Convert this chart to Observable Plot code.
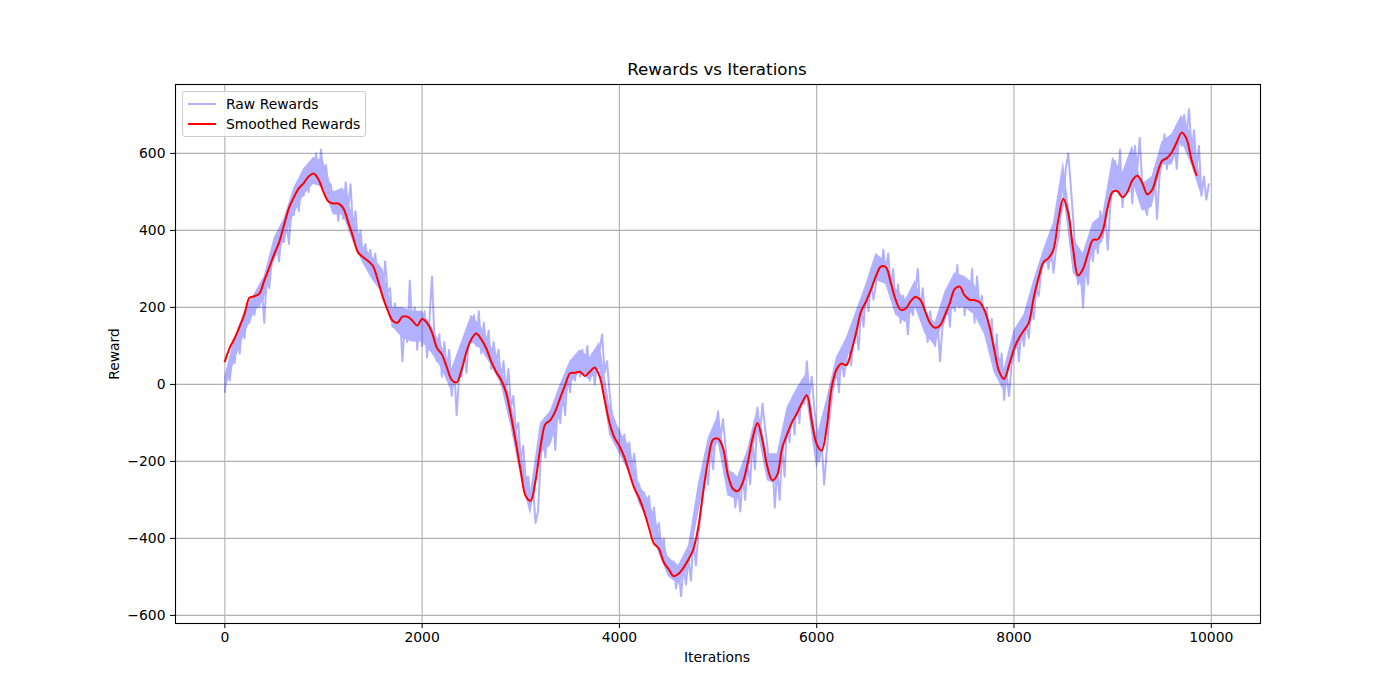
<!DOCTYPE html>
<html>
<head>
<meta charset="utf-8">
<script src="https://cdn.jsdelivr.net/npm/d3@7"></script>
<script src="https://cdn.jsdelivr.net/npm/@observablehq/plot@0.6"></script>
<style>
  body { margin: 0; background: #fff; font-family: "DejaVu Sans", sans-serif; }
  #wrap { position: relative; width: 1400px; height: 700px; overflow: hidden; }
  #chart { position: absolute; left: 0; top: 0; }
  .title { position: absolute; left: 517px; width: 400px; top: 59px; text-align: center; font-size: 16.7px; color: #000; }
  .xlabel { position: absolute; left: 617px; width: 200px; top: 649px; text-align: center; font-size: 13.9px; color: #000; }
  .ylabel { position: absolute; left: 114px; top: 354px; transform: translate(-50%, -50%) rotate(-90deg); font-size: 13.9px; color: #000; white-space: nowrap; }
  .legend { position: absolute; left: 182px; top: 91px; width: 182px; height: 44px; border: 1px solid #cccccc; border-radius: 3px; background: rgba(255,255,255,0.8); z-index: 2; }
  .legend .row { position: absolute; left: 0; height: 18px; font-size: 13.9px; color: #000; }
  .legend .sw { position: absolute; left: 5px; top: 8px; width: 28px; height: 2px; }
  .legend .lbl { position: absolute; left: 43px; top: 0; white-space: nowrap; line-height: 18px; }
</style>
</head>
<body>
<div id="wrap">
  <div id="chart"></div>
  <div class="title">Rewards vs Iterations</div>
  <div class="xlabel">Iterations</div>
  <div class="ylabel">Reward</div>
  <div class="legend" id="legend"></div>
</div>
<script>
// ---- data ----
// raw rewards, read every 25 iterations
const rawStep = 25;
const rawValues = [
  -20, 40, 10, 70,   55, 130, 80, 150,   120, 200, 160, 225,   180, 230, 200, 250,   160, 280, 250, 320,
  330, 370, 320, 395,   370, 420, 365, 460,   440, 500, 450, 530,   490, 550, 500, 575,   530, 600, 520, 610,
  540, 570, 510, 520,   450, 500, 425, 480,   430, 525, 460, 520,   400, 450, 360, 400,   330, 365, 310, 350,
  280, 340, 260, 300,   230, 320, 240, 250,   150, 210, 160, 190,   60, 160, 110, 270,   150, 200, 90, 180,
  100, 190, 70, 170,   280, 120, 60, 130,   20, 110, 40, 90,   -30, 50, -80, 20,   20, 100, 30, 130,
  110, 180, 100, 190,   80, 160, 100, 140,   40, 110, 60, 90,   0, 60, -20, 40,   -60, -30, -120, -100,
  -200, -160, -250, -240,   -300, -270, -360, -330,   -200, -120, -190, -80,   -150, -70, -170, -50,   -100, -20, -80, 40,
  -20, 60, 10, 70,   20, 90, 30, 100,   10, 80, 0, 60,   90, 130, 30, 60,   -20, -80, -150, -110,
  -120, -180, -130, -200,   -150, -220, -180, -250,   -260, -300, -280, -340,   -290, -370, -320, -380,   -360, -430, -400, -470,
  -450, -500, -460, -530,   -480, -550, -470, -520,   -450, -510, -400, -470,   -390, -330, -280, -220,   -260, -160, -220, -120,
  -70, -140, -90, -160,   -220, -280, -230, -320,   -260, -330, -230, -300,   -200, -260, -150, -220,   -60, -130, -50, -110,
  -160, -240, -190, -320,   -220, -300, -160, -240,   -80, -150, -40, -130,   -30, -100, 10, -50,   60, -30, 20, -60,
  -120, -200, -150, -260,   -180, -100, -40, 30,   60, -20, 80, 20,   60, 120, 50, 140,   150, 90, 200, 150,
  250, 190, 270, 220,   260, 330, 280, 350,   290, 340, 250, 300,   200, 260, 160, 230,   200, 130, 230, 180,
  240, 300, 190, 250,   170, 110, 190, 140,   100, 170, 60, 150,   170, 230, 150, 260,   190, 310, 200, 280,
  180, 260, 200, 300,   160, 280, 200, 230,   150, 200, 110, 170,   40, 130, 20, 80,   -40, 30, -30, 50,
  80, 140, 60, 150,   100, 160, 120, 200,   170, 250, 230, 290,   320, 350, 300, 360,   290, 350, 380, 440,
  470, 560, 600, 520,   430, 330, 260, 300,   200, 320, 260, 380,   320, 400, 340, 450,   380, 440, 350, 460,
  520, 580, 500, 610,   460, 540, 500, 560,   470, 620, 560, 640,   520, 460, 440, 520,   480, 560, 430, 540,
  580, 650, 560, 620,   580, 640, 560, 660,   620, 700, 650, 715,   600, 660, 560, 620,   490, 540, 480, 520
];

// dense core of the raw noise band, read every 100 iterations (low / high)
const bandStep = 100;
const rawBandLow = [
  -20, 60, 130, 185, 220, 320, 370, 440, 490, 520,
  510, 440, 440, 370, 315, 270, 235, 150, 120, 110,
  110, 80, 40, -20, 30, 110, 90, 50, 0, -110,
  -240, -340, -180, -160, -80, 0, 30, 10, 40, -130,
  -180, -230, -310, -360, -440, -500, -520, -480, -340, -210,
  -150, -290, -300, -240, -120, -250, -260, -130, -80, -40,
  -220, -120, 10, 60, 120, 200, 270, 260, 180, 160,
  200, 130, 100, 170, 200, 200, 180, 130, 30, -20,
  80, 120, 200, 310, 320, 500, 290, 250, 340, 370,
  510, 480, 530, 450, 460, 570, 570, 630, 570, 490
];
const rawBandHigh = [
  20, 120, 190, 235, 280, 380, 430, 510, 560, 590,
  580, 500, 510, 440, 360, 330, 300, 200, 200, 190,
  190, 150, 100, 40, 110, 180, 150, 100, 50, -40,
  -170, -280, -100, -70, 0, 60, 90, 70, 110, -50,
  -120, -160, -260, -300, -380, -450, -470, -420, -260, -140,
  -80, -220, -240, -170, -60, -180, -180, -60, -10, 30,
  -140, -40, 70, 120, 190, 260, 340, 320, 250, 220,
  270, 190, 160, 240, 290, 280, 260, 190, 110, 40,
  140, 180, 270, 350, 420, 580, 380, 340, 420, 440,
  590, 550, 620, 520, 540, 630, 650, 700, 650, 530
];

// smoothed rewards, read every 50 iterations
const smoothStep = 50;
const smoothValues = [
  60, 95, 120, 150, 183, 225, 229, 236, 270, 303, 338, 369, 414, 458, 486, 509, 523, 540, 548, 532,
  500, 475, 470, 470, 458, 422, 383, 343, 331, 321, 308, 272, 228, 193, 166, 160, 176, 176, 166, 153,
  170, 160, 135, 95, 78, 45, 12, 5, 38, 85, 118, 132, 117, 94, 60, 33, 12, -20, -80, -150,
  -225, -290, -302, -250, -163, -103, -93, -70, -35, -2, 29, 30, 33, 22, 33, 44, 20, -40, -100, -138,
  -160, -189, -230, -269, -295, -330, -373, -413, -426, -462, -480, -498, -492, -476, -455, -428, -370, -278, -196, -143,
  -141, -165, -235, -271, -277, -255, -205, -140, -100, -145, -214, -249, -235, -165, -130, -98, -75, -48, -28, -95,
  -155, -172, -115, -10, 38, 54, 50, 85, 135, 190, 215, 246, 281, 306, 305, 265, 220, 194, 196, 215,
  227, 220, 190, 159, 147, 153, 180, 212, 248, 254, 231, 220, 219, 214, 193, 152, 90, 33, 14, 50,
  92, 120, 140, 160, 225, 278, 318, 328, 350, 428, 482, 445, 350, 283, 300, 340, 375, 377, 400, 460,
  500, 502, 486, 500, 530, 542, 524, 494, 505, 545, 580, 588, 603, 629, 654, 637, 583, 544
];

const xTicks = [0, 2000, 4000, 6000, 8000, 10000];
const yTicks = [-600, -400, -200, 0, 200, 400, 600];
const seriesNames = ["Raw Rewards", "Smoothed Rewards"];
const seriesColors = ["rgba(0,0,255,0.3)", "red"];

// ---- build tables ----
const raw = rawValues.map((v, i) => ({ iter: i * rawStep, reward: v }));
const band = rawBandLow.map((lo, i) => ({ iter: i * bandStep, lo, hi: rawBandHigh[i] }));
const smooth = smoothValues.map((v, i) => ({ iter: i * smoothStep, reward: v }));

const fmt = d => (d < 0 ? "\u2212" + Math.abs(d) : String(d));

const chart = Plot.plot({
  width: 1400,
  height: 700,
  marginLeft: 175,
  marginRight: 140,
  marginTop: 84,
  marginBottom: 77,
  style: { fontFamily: "DejaVu Sans, sans-serif", fontSize: "13.9px", color: "#000", background: "transparent" },
  x: { domain: [-499.95, 10498.95] },
  y: { domain: [-621, 779] },
  marks: [
    Plot.gridX(xTicks, { stroke: "#b0b0b0", strokeOpacity: 1, strokeWidth: 1.1 }),
    Plot.gridY(yTicks, { stroke: "#b0b0b0", strokeOpacity: 1, strokeWidth: 1.1 }),
    Plot.areaY(band, { x: "iter", y1: "lo", y2: "hi", fill: "blue" }),
    Plot.line(raw, { x: "iter", y: "reward", stroke: "blue", strokeWidth: 2 }),
    Plot.line(smooth, { x: "iter", y: "reward", stroke: "red", strokeWidth: 2, curve: "catmull-rom" }),
    Plot.frame({ stroke: "black", strokeWidth: 1.1 }),
    Plot.axisX(xTicks, { tickSize: 5, tickPadding: 4, tickFormat: fmt, label: null, stroke: "black" }),
    Plot.axisY(yTicks, { tickSize: 5, tickPadding: 5, tickFormat: fmt, label: null, stroke: "black" })
  ]
});

// the raw series is one translucent layer (alpha 0.3), like a single matplotlib line
(function groupRaw() {
  const bandG = chart.querySelector('g[aria-label="area"]');
  const lineG = chart.querySelector('g[aria-label="line"]');
  if (bandG && lineG) {
    const g = document.createElementNS("http://www.w3.org/2000/svg", "g");
    g.setAttribute("opacity", "0.3");
    bandG.parentNode.insertBefore(g, bandG);
    g.appendChild(bandG);
    g.appendChild(lineG);
  }
})();

document.getElementById("chart").appendChild(chart);

// ---- legend ----
const legend = document.getElementById("legend");
seriesNames.forEach((name, i) => {
  const row = document.createElement("div");
  row.className = "row";
  row.style.top = (3 + i * 20) + "px";
  const sw = document.createElement("div");
  sw.className = "sw";
  sw.style.background = seriesColors[i];
  const lbl = document.createElement("div");
  lbl.className = "lbl";
  lbl.textContent = name;
  row.appendChild(sw);
  row.appendChild(lbl);
  legend.appendChild(row);
});
</script>
</body>
</html>
